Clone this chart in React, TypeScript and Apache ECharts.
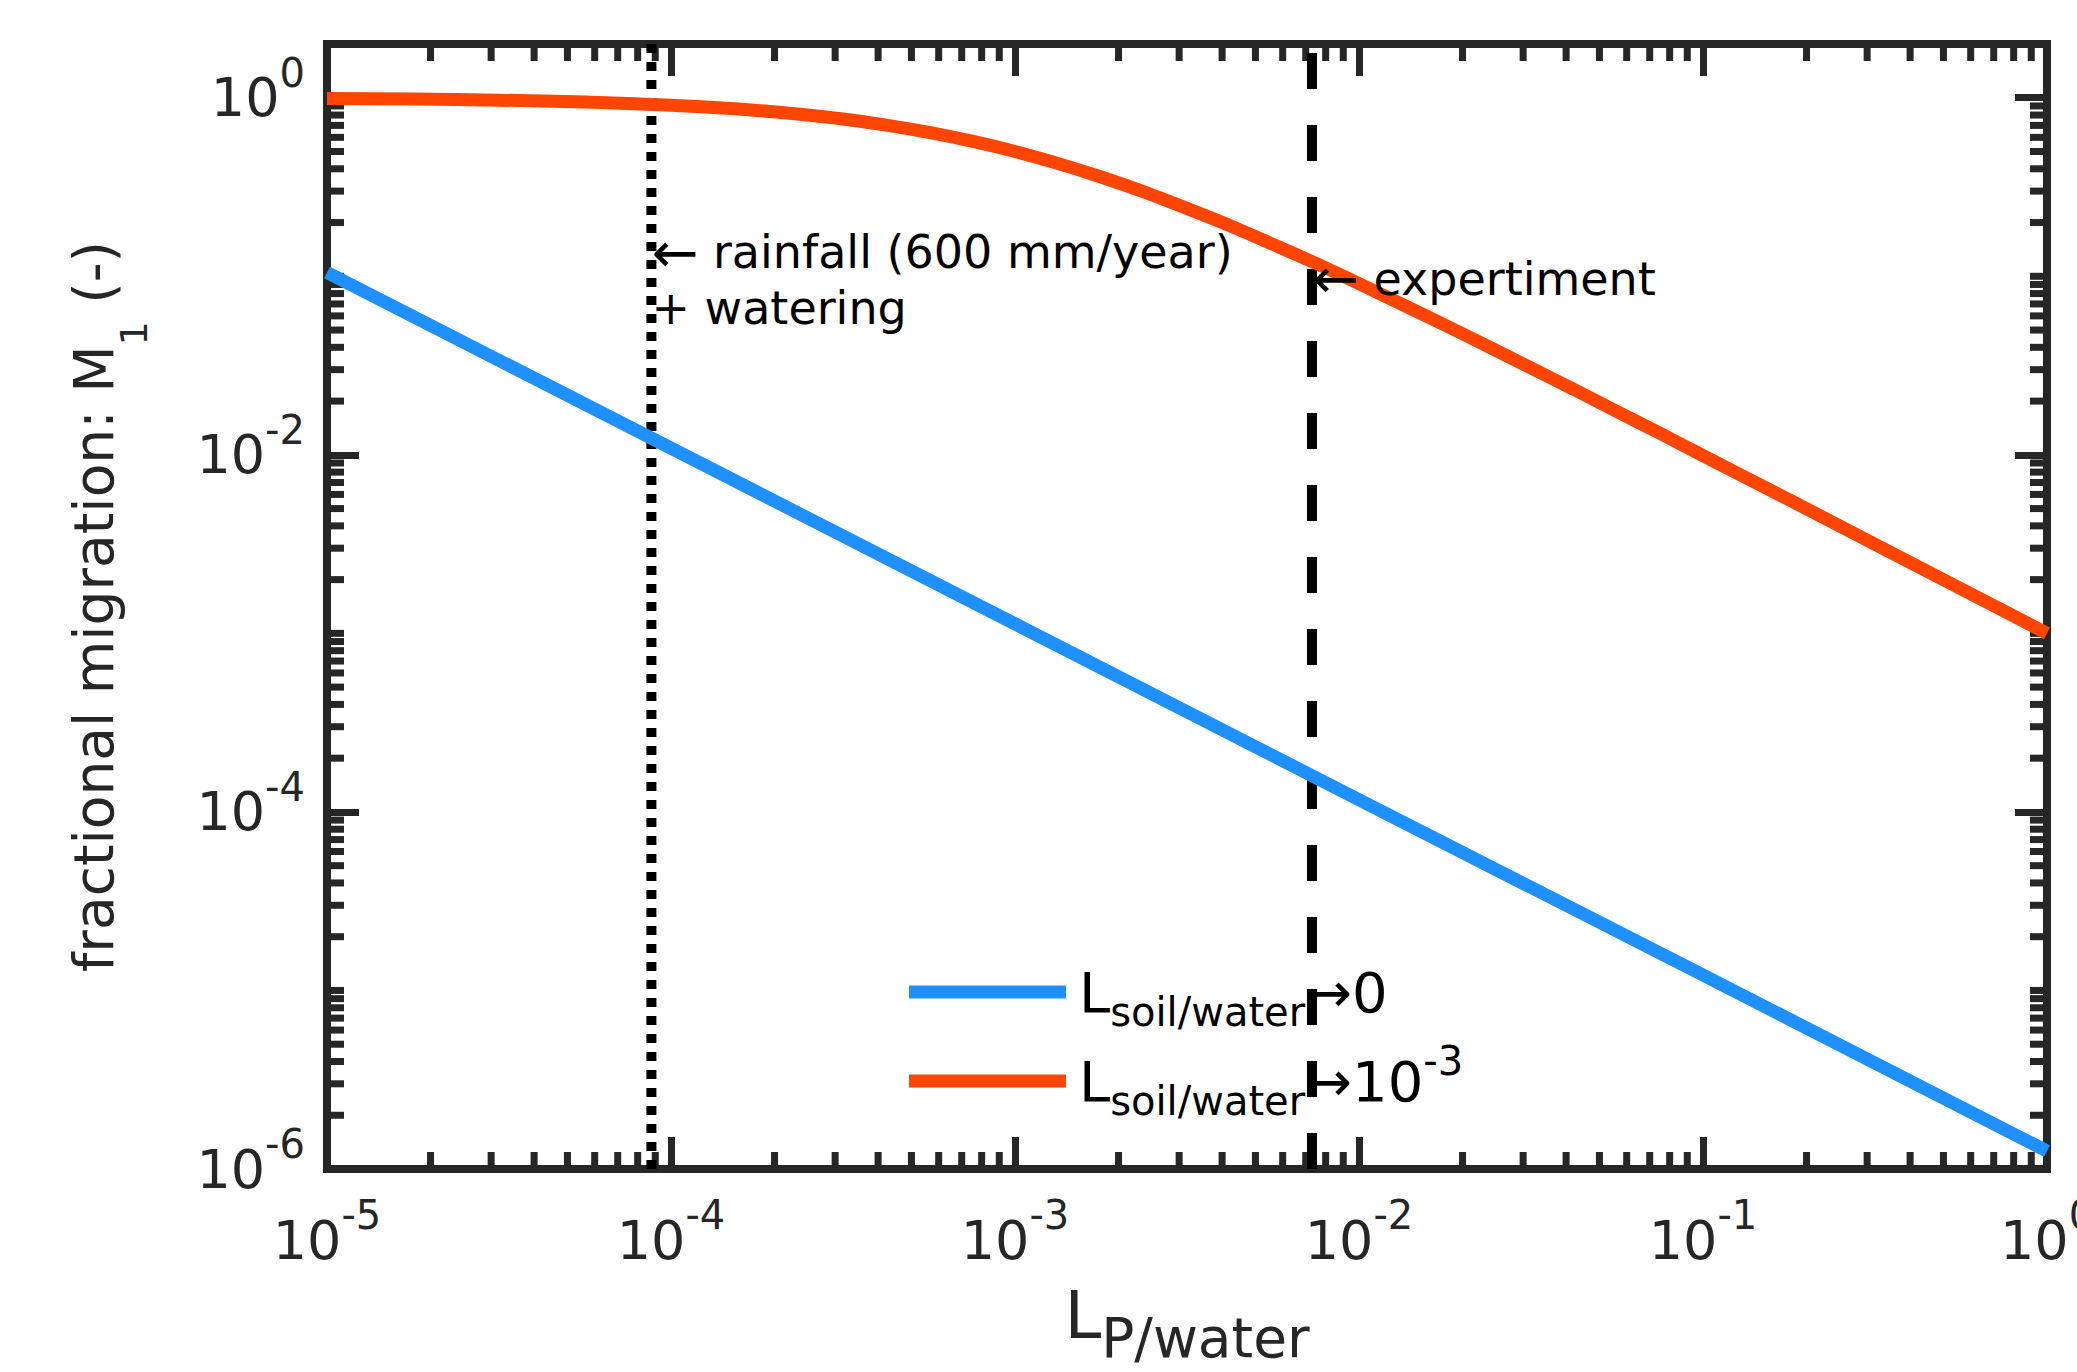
import React, { useEffect, useRef } from "react";
import * as echarts from "echarts";

// ---------------- data ----------------
const blueX = [1e-5, 1e-4, 1e-3, 1e-2, 1e-1, 1];
const blueY = [0.105, 0.0109, 0.00113, 0.000117, 0.0000122, 0.00000126];

const redX = [
  1e-5, 1.78e-5, 3.16e-5, 5.62e-5, 1e-4, 1.33e-4, 1.78e-4, 2.37e-4, 3.16e-4, 4.22e-4, 5.62e-4,
  7.5e-4, 1e-3, 1.33e-3, 1.78e-3, 2.37e-3, 3.16e-3, 4.22e-3, 5.62e-3, 7.5e-3, 1e-2, 1.33e-2,
  1.78e-2, 2.37e-2, 3.16e-2, 4.22e-2, 5.62e-2, 7.5e-2, 0.1, 0.178, 0.316, 0.562, 1,
];
const redY = [
  0.99, 0.983, 0.969, 0.947, 0.909, 0.883, 0.849, 0.808, 0.76, 0.703, 0.64, 0.571, 0.5, 0.429,
  0.36, 0.297, 0.24, 0.192, 0.151, 0.118, 0.0909, 0.0699, 0.0532, 0.0405, 0.0307, 0.0232,
  0.0175, 0.0132, 0.0099, 0.0056, 0.00316, 0.00178, 0.001,
];

const rainfallX = 8.77e-5;
const experimentX = 7.3e-3;
const rainfallLabelY = 0.095;
const experimentLabelY = 0.097;

const X_MIN = 1e-5;
const X_MAX = 1;
const Y_MIN = 1e-6;
const Y_MAX = 2;

const xDecades = [-5, -4, -3, -2, -1, 0];
const yDecades = [-6, -5, -4, -3, -2, -1, 0];
const yLabelDecades = [-6, -4, -2, 0];
const minorMultipliers = [2, 3, 4, 5, 6, 7, 8, 9];

const seriesNames = ["Lsoil/water→0", "Lsoil/water→10-3"];
const rainfallText = "{a|←} rainfall (600 mm/year)\n+ watering";
const experimentText = "{a|←} expertiment";

// ---------------- styling ----------------
const FONT = "'DejaVu Sans', 'Liberation Sans', Arial, sans-serif";
const AXIS_COLOR = "#262626";
const BLUE = "#1E90FF";
const RED = "#FF4500";

const xMinorTicks: number[] = [];
xDecades.slice(0, -1).forEach((e) => minorMultipliers.forEach((m) => xMinorTicks.push(m * Math.pow(10, e))));
const yMinorTicks: number[] = [];
yDecades.forEach((e) => {
  [1, ...minorMultipliers].forEach((m) => {
    if (m === 1 && yLabelDecades.includes(e)) return;
    const v = m * Math.pow(10, e);
    if (v < Y_MAX) yMinorTicks.push(v);
  });
});

const tickLabel = (v: number) => {
  const e = Math.log10(v);
  const r = Math.round(e);
  if (Math.abs(e - r) > 1e-6) return "";
  return `{b|10}{s|${r}}`;
};

const tickRich = {
  b: { fontSize: 54, lineHeight: 90, fontFamily: FONT, color: AXIS_COLOR },
  s: { fontSize: 40, lineHeight: 40, verticalAlign: "top", fontFamily: FONT, color: AXIS_COLOR },
};

const annotRich = {
  a: { fontSize: 56, fontFamily: FONT, color: "#000" },
};

const axisLineStyle = { color: AXIS_COLOR, width: 8, cap: "square" };
const tickLineStyle = { color: AXIS_COLOR, width: 7 };

export default function App() {
  const ref = useRef<HTMLDivElement>(null);
  useEffect(() => {
    if (!ref.current) return;
    const chart = echarts.init(ref.current, undefined, { renderer: "svg" });

    const minorTickSeries = (values: number[], horizontal: boolean) => ({
      type: "custom",
      name: horizontal ? "xminor" : "yminor",
      xAxisIndex: 0,
      yAxisIndex: 0,
      silent: true,
      clip: false,
      z: 1,
      data: values.map((v) => (horizontal ? [v, Y_MIN] : [X_MIN, v])),
      renderItem: (params: any, api: any) => {
        const cs = params.coordSys;
        const p = api.coord([api.value(0), api.value(1)]);
        const len = 17;
        const style = { stroke: AXIS_COLOR, lineWidth: 7 };
        if (horizontal) {
          const bottom = cs.y + cs.height;
          return {
            type: "group",
            children: [
              { type: "line", shape: { x1: p[0], y1: bottom, x2: p[0], y2: bottom - len }, style },
              { type: "line", shape: { x1: p[0], y1: cs.y, x2: p[0], y2: cs.y + len }, style },
            ],
          };
        }
        const right = cs.x + cs.width;
        return {
          type: "group",
          children: [
            { type: "line", shape: { x1: cs.x, y1: p[1], x2: cs.x + len, y2: p[1] }, style },
            { type: "line", shape: { x1: right, y1: p[1], x2: right - len, y2: p[1] }, style },
          ],
        };
      },
    });

    const option: any = {
      animation: false,
      backgroundColor: "#ffffff",
      grid: {
        left: 327,
        top: 44,
        width: 1720,
        height: 1125,
        containLabel: false,
        outerBoundsMode: "none",
      },
      legend: {
        data: seriesNames,
        orient: "vertical",
        left: 909,
        top: 964,
        padding: 0,
        itemGap: 9,
        itemWidth: 157,
        itemHeight: 13,
        icon: "rect",
        selectedMode: false,
        formatter: (name: string) =>
          name === seriesNames[0]
            ? "{g|}{b|L}{sub|soil/water}{b|→0}"
            : "{g|}{b|L}{sub|soil/water}{b|→10}{sup|-3}",
        textStyle: {
          fontFamily: FONT,
          color: "#000",
          rich: {
            g: { width: 8, fontSize: 10 },
            b: { fontSize: 56, lineHeight: 80, fontFamily: FONT, color: "#000" },
            sub: { fontSize: 40, lineHeight: 40, verticalAlign: "bottom", fontFamily: FONT, color: "#000" },
            sup: { fontSize: 40, lineHeight: 40, verticalAlign: "top", fontFamily: FONT, color: "#000" },
          },
        },
      },
      xAxis: [
        {
          type: "log",
          logBase: 10,
          min: X_MIN,
          max: X_MAX,
          interval: 1,
          position: "bottom",
          name: "{b|L}{sub|P/water}",
          nameLocation: "middle",
          nameGap: 96,
          nameTextStyle: {
            fontFamily: FONT,
            color: AXIS_COLOR,
            rich: {
              b: { fontSize: 66, lineHeight: 100, fontFamily: FONT, color: AXIS_COLOR },
              sub: { fontSize: 55, lineHeight: 55, verticalAlign: "bottom", fontFamily: FONT, color: AXIS_COLOR },
            },
          },
          splitLine: { show: false },
          axisLine: { show: true, lineStyle: axisLineStyle },
          axisTick: { show: true, inside: true, length: 32, lineStyle: tickLineStyle },
          minorTick: { show: false },
          axisLabel: {
            show: true,
            margin: 26,
            formatter: tickLabel,
            rich: tickRich,
            showMinLabel: true,
            showMaxLabel: true,
            hideOverlap: false,
          },
        },
        {
          type: "log",
          logBase: 10,
          min: X_MIN,
          max: X_MAX,
          interval: 1,
          position: "top",
          splitLine: { show: false },
          axisLine: { show: true, lineStyle: axisLineStyle },
          axisTick: { show: true, inside: true, length: 32, lineStyle: tickLineStyle },
          axisLabel: { show: false },
        },
      ],
      yAxis: [
        {
          type: "log",
          logBase: 10,
          min: Y_MIN,
          max: Y_MAX,
          interval: 2,
          position: "left",
          name: "{b|fractional migration: M}{sub|1}{b| (-)}",
          nameLocation: "middle",
          nameGap: 174,
          nameTextStyle: {
            fontFamily: FONT,
            color: AXIS_COLOR,
            rich: {
              b: { fontSize: 55, lineHeight: 118, fontFamily: FONT, color: AXIS_COLOR },
              sub: { fontSize: 38, lineHeight: 38, verticalAlign: "bottom", fontFamily: FONT, color: AXIS_COLOR },
            },
          },
          splitLine: { show: false },
          axisLine: { show: true, lineStyle: axisLineStyle },
          axisTick: { show: true, inside: true, length: 32, lineStyle: tickLineStyle },
          axisLabel: {
            show: true,
            margin: 22,
            formatter: tickLabel,
            rich: tickRich,
            showMinLabel: true,
            showMaxLabel: false,
            hideOverlap: false,
          },
        },
        {
          type: "log",
          logBase: 10,
          min: Y_MIN,
          max: Y_MAX,
          interval: 2,
          position: "right",
          splitLine: { show: false },
          axisLine: { show: true, lineStyle: axisLineStyle },
          axisTick: { show: true, inside: true, length: 32, lineStyle: tickLineStyle },
          axisLabel: { show: false },
        },
      ],
      series: [
        minorTickSeries(xMinorTicks, true),
        minorTickSeries(yMinorTicks, false),
        {
          name: "rainfall",
          type: "line",
          xAxisIndex: 0,
          yAxisIndex: 0,
          z: 3,
          symbol: "none",
          data: [
            [rainfallX, Y_MIN],
            [rainfallX, Y_MAX],
          ],
          lineStyle: { color: "#000", width: 10, type: [9, 9] },
          markPoint: {
            symbol: "circle",
            symbolSize: 0,
            silent: true,
            data: [
              {
                coord: [rainfallX, rainfallLabelY],
                label: {
                  show: true,
                  position: "right",
                  distance: 0,
                  formatter: rainfallText,
                  fontFamily: FONT,
                  fontSize: 46,
                  lineHeight: 56,
                  color: "#000",
                  rich: annotRich,
                },
              },
            ],
          },
        },
        {
          name: "experiment",
          type: "line",
          xAxisIndex: 0,
          yAxisIndex: 0,
          z: 3,
          symbol: "none",
          data: [
            [experimentX, Y_MIN],
            [experimentX, Y_MAX],
          ],
          lineStyle: { color: "#000", width: 10, type: [36, 36] },
          markPoint: {
            symbol: "circle",
            symbolSize: 0,
            silent: true,
            data: [
              {
                coord: [experimentX, experimentLabelY],
                label: {
                  show: true,
                  position: "right",
                  distance: 0,
                  formatter: experimentText,
                  fontFamily: FONT,
                  fontSize: 46,
                  color: "#000",
                  rich: annotRich,
                },
              },
            ],
          },
        },
        {
          name: seriesNames[0],
          type: "line",
          xAxisIndex: 0,
          yAxisIndex: 0,
          z: 4,
          symbol: "none",
          showSymbol: false,
          itemStyle: { color: BLUE },
          lineStyle: { color: BLUE, width: 13 },
          data: blueX.map((x, i) => [x, blueY[i]]),
        },
        {
          name: seriesNames[1],
          type: "line",
          xAxisIndex: 0,
          yAxisIndex: 0,
          z: 4,
          symbol: "none",
          showSymbol: false,
          smooth: 0.3,
          itemStyle: { color: RED },
          lineStyle: { color: RED, width: 13 },
          data: redX.map((x, i) => [x, redY[i]]),
        },
      ],
    };

    chart.setOption(option);
    return () => chart.dispose();
  }, []);

  return (
    <div
      ref={ref}
      style={{ position: "fixed", left: 0, top: 0, width: 2077, height: 1372, background: "#fff" }}
    />
  );
}
